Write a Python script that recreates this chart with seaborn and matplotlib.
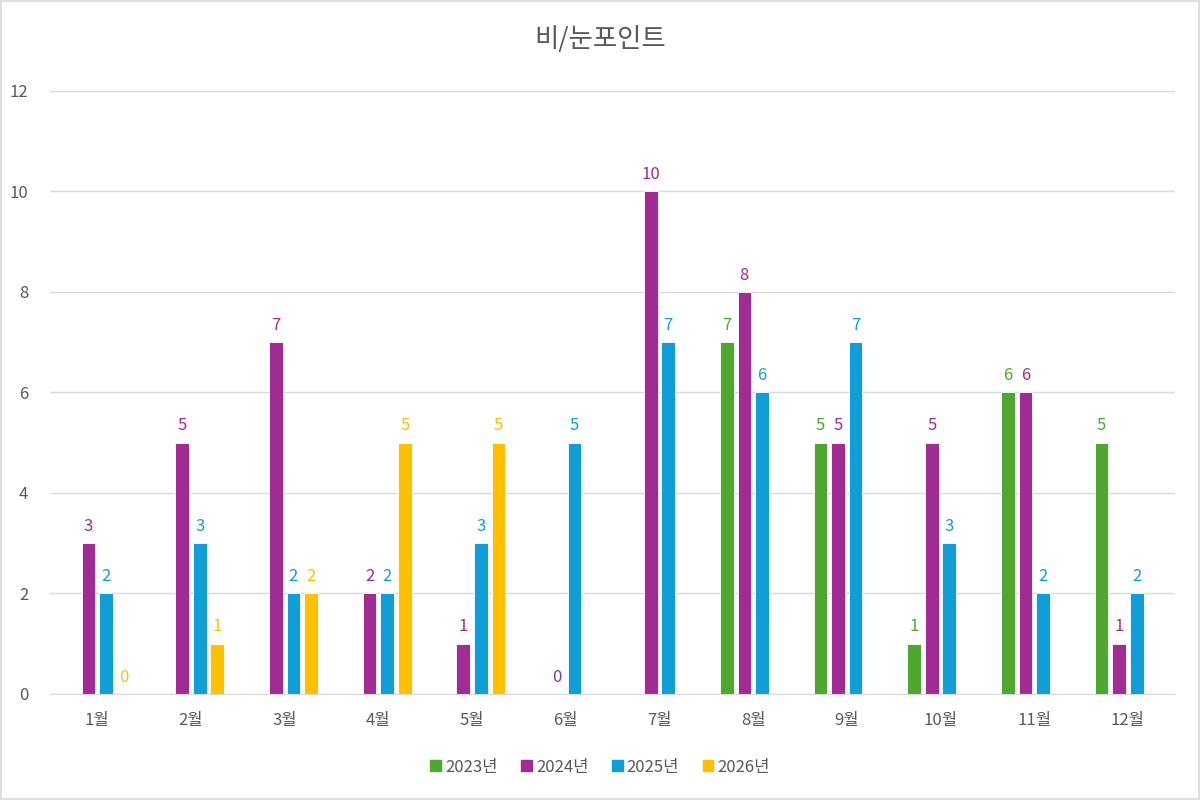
import matplotlib.pyplot as plt
import matplotlib.patches as mpatches
import numpy as np
import pandas as pd
import seaborn as sns

# data
months = ['1월', '2월', '3월', '4월', '5월', '6월', '7월', '8월', '9월', '10월', '11월', '12월']
years = ['2023년', '2024년', '2025년', '2026년']
v2023 = [np.nan, np.nan, np.nan, np.nan, np.nan, np.nan, np.nan, 7, 5, 1, 6, 5]
v2024 = [3, 5, 7, 2, 1, 0, 10, 8, 5, 5, 6, 1]
v2025 = [2, 3, 2, 2, 3, 5, 7, 6, 7, 3, 2, 2]
v2026 = [0, 1, 2, 5, 5, np.nan, np.nan, np.nan, np.nan, np.nan, np.nan, np.nan]
colors = ['#4EA72E', '#A02B93', '#0F9ED5', '#FFC000']

rows = []
for yr, vals in zip(years, [v2023, v2024, v2025, v2026]):
    for m, v in zip(months, vals):
        rows.append({'month': m, 'year': yr, 'value': v})
df = pd.DataFrame(rows)

sns.set_style('white')
plt.rcParams['font.family'] = ['Noto Sans CJK KR', 'DejaVu Sans']

fig = plt.figure(figsize=(12, 8), dpi=100)
ax = fig.add_axes([0.042, 0.1325, 0.937, 0.754])

sns.barplot(data=df, x='month', y='value', hue='year', order=months, hue_order=years,
            palette=colors, saturation=1, width=0.75, gap=0.22, edgecolor='white',
            linewidth=0.6, legend=False, ax=ax)

# value labels, coloured like their series (one container per hue level)
for cont in ax.containers:
    fc = cont.patches[0].get_facecolor() if len(cont.patches) else '#595959'
    ax.bar_label(cont, fmt='%d', padding=6, color=fc, fontsize=12)

ax.set_ylim(0, 12)
ax.set_xlim(-0.5, 11.5)
ax.set_yticks(range(0, 13, 2))
ax.yaxis.grid(True, color='#D9D9D9', linewidth=1)
ax.set_axisbelow(True)
for s in ['top', 'right', 'left']:
    ax.spines[s].set_visible(False)
ax.spines['bottom'].set_color('#D9D9D9')
ax.tick_params(axis='both', length=0, labelsize=12, colors='#595959')
ax.tick_params(axis='y', pad=16)
ax.tick_params(axis='x', pad=13)
ax.set_xlabel('')
ax.set_ylabel('')

fig.suptitle('비/눈포인트', y=0.968, fontsize=19, color='#595959')

handles = [mpatches.Patch(color=c, label=y) for c, y in zip(colors, years)]
fig.legend(handles=handles, loc='center', bbox_to_anchor=(0.5, 0.041), ncol=4, frameon=False,
           fontsize=12, handlelength=0.65, handleheight=0.65, handletextpad=0.25,
           columnspacing=1.4, labelcolor='#595959')

# light border around the chart
fig.patches.append(mpatches.Rectangle((0.001, 0.001), 0.998, 0.998, transform=fig.transFigure,
                                      fill=False, edgecolor='#D9D9D9', linewidth=1.2))

fig.savefig('out.png', dpi=100)
